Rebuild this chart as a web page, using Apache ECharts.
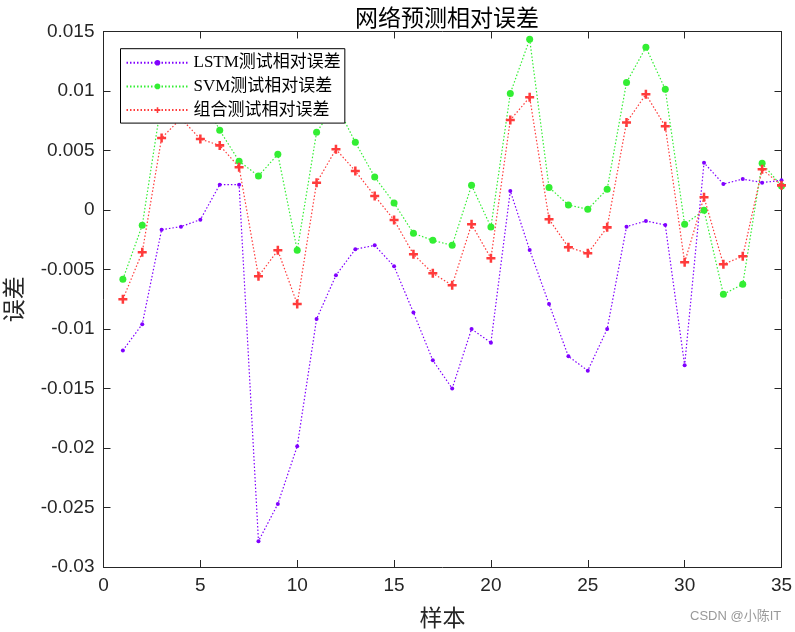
<!DOCTYPE html>
<html>
<head>
<meta charset="utf-8">
<script src="https://cdn.jsdelivr.net/npm/echarts@6/dist/echarts.min.js"></script>
<style>html,body{margin:0;padding:0;background:#fff;}#c{width:795px;height:632px;}</style>
</head>
<body>
<div id="c"></div>
<script>
var samples = [1,2,3,4,5,6,7,8,9,10,11,12,13,14,15,16,17,18,19,20,21,22,23,24,25,26,27,28,29,30,31,32,33,34,35];
var lstmErr = [-0.0118,-0.0096,-0.00165,-0.0014,-0.00081,0.00213,0.00213,-0.02783,-0.0247,-0.01985,-0.00916,-0.00549,-0.0033,-0.00297,-0.00473,-0.00862,-0.01263,-0.0150,-0.0100,-0.01115,0.0016,-0.00336,-0.0079,-0.0123,-0.0135,-0.0100,-0.0014,-0.00092,-0.00126,-0.01305,0.00397,0.00218,0.0026,0.0023,0.0025];
var svmErr = [-0.00582,-0.00129,0.0092,0.0108,0.0098,0.0067,0.0041,0.00286,0.00468,-0.00339,0.00653,0.0089,0.00569,0.00277,0.00059,-0.00196,-0.00255,-0.00297,0.00207,-0.00143,0.0098,0.01434,0.0019,0.00042,0.00006,0.00174,0.01072,0.01367,0.01014,-0.0012,-0.00003,-0.00708,-0.00624,0.00392,0.00202];
var combErr = [-0.0075,-0.00355,0.00605,0.0077,0.00596,0.00543,0.0036,-0.00557,-0.00339,-0.0079,0.00229,0.0051,0.00328,0.00118,-0.00084,-0.00372,-0.00532,-0.00633,-0.0012,-0.00406,0.00756,0.00947,-0.00078,-0.00313,-0.00364,-0.00146,0.00736,0.00972,0.00703,-0.0044,0.00107,-0.00456,-0.00389,0.00342,0.00207];
var seriesNames = ['LSTM测试相对误差','SVM测试相对误差','组合测试相对误差'];
var titleText = '网络预测相对误差';
var xName = '样本';
var yName = '误差';

function pairs(arr){ return samples.map(function(s,i){ return [s, arr[i]]; }); }

var chart = echarts.init(document.getElementById('c'));
var axisColor = '#262626';
var tickFont = {fontFamily:'Liberation Sans, Arial, sans-serif', fontSize:19, color:'#262626'};
var dotted = [1.5, 2];
var plusPath = 'path://M3.6,0H6.4V3.6H10V6.4H6.4V10H3.6V6.4H0V3.6H3.6Z';

chart.setOption({
  animation:false,
  backgroundColor:'#fff',
  title:{text:titleText, left:442, top:1, textAlign:'center',
    textStyle:{fontFamily:'Noto Sans CJK SC', fontWeight:'normal', fontSize:23, color:'#000'}},
  grid:{left:103.5, right:13.5, top:31.5, bottom:65, containLabel:false, outerBoundsMode:'none'},
  legend:{
    orient:'vertical', left:120.5, top:48.7,
    backgroundColor:'#fff', borderColor:'#000', borderWidth:1, borderRadius:0,
    padding:[5,4,4,5], itemGap:5.7, itemWidth:62, itemHeight:7,
    textStyle:{fontFamily:'Liberation Serif, Noto Sans CJK SC', fontSize:17, lineHeight:18, color:'#000'},
    data:seriesNames, z:10
  },
  xAxis:[{
    type:'value', min:0, max:35, interval:5, position:'bottom',
    name:xName, nameLocation:'middle', nameGap:38.5,
    nameTextStyle:{fontFamily:'Noto Sans CJK SC', fontSize:23, color:'#262626'},
    axisLine:{onZero:false, lineStyle:{color:axisColor, width:1}},
    axisTick:{inside:true, length:7, lineStyle:{color:axisColor}},
    axisLabel:Object.assign({margin:9}, tickFont),
    splitLine:{show:false}
  },{
    type:'value', min:0, max:35, interval:5, position:'top',
    axisLine:{onZero:false, lineStyle:{color:axisColor, width:1}},
    axisTick:{inside:true, length:7, lineStyle:{color:axisColor}},
    axisLabel:{show:false}, splitLine:{show:false}
  }],
  yAxis:[{
    type:'value', min:-0.03, max:0.015, interval:0.005, position:'left',
    name:yName, nameLocation:'middle', nameGap:79, nameRotate:90,
    nameTextStyle:{fontFamily:'Noto Sans CJK SC', fontSize:23, color:'#262626'},
    axisLine:{onZero:false, show:true, lineStyle:{color:axisColor, width:1}},
    axisTick:{show:true, inside:true, length:7, lineStyle:{color:axisColor}},
    axisLabel:Object.assign({margin:9, formatter:function(v){ return String(parseFloat(v.toFixed(3))); }}, tickFont),
    splitLine:{show:false}
  },{
    type:'value', min:-0.03, max:0.015, interval:0.005, position:'right',
    axisLine:{onZero:false, show:true, lineStyle:{color:axisColor, width:1}},
    axisTick:{show:true, inside:true, length:7, lineStyle:{color:axisColor}},
    axisLabel:{show:false}, splitLine:{show:false}
  }],
  series:[{
    name:seriesNames[0], type:'line', data:pairs(lstmErr),
    symbol:'circle', symbolSize:4, showSymbol:true,
    lineStyle:{color:'#8000ff', width:1.2, type:dotted},
    itemStyle:{color:'#8000ff'}, z:3
  },{
    name:seriesNames[1], type:'line', data:pairs(svmErr),
    symbol:'circle', symbolSize:7, showSymbol:true,
    lineStyle:{color:'#33ee33', width:1.2, type:dotted},
    itemStyle:{color:'#33ee33'}, z:2
  },{
    name:seriesNames[2], type:'line', data:pairs(combErr),
    symbol:plusPath, symbolSize:9, showSymbol:true,
    lineStyle:{color:'#ff3b3b', width:1.2, type:dotted},
    itemStyle:{color:'#ff3b3b'}, z:4
  }],
  graphic:[{
    type:'text', x:690, y:610,
    style:{text:'CSDN @小陈IT', fontFamily:'Liberation Sans, Noto Sans CJK SC', fontSize:13, fill:'#999'}
  }]
});
</script>
</body>
</html>
